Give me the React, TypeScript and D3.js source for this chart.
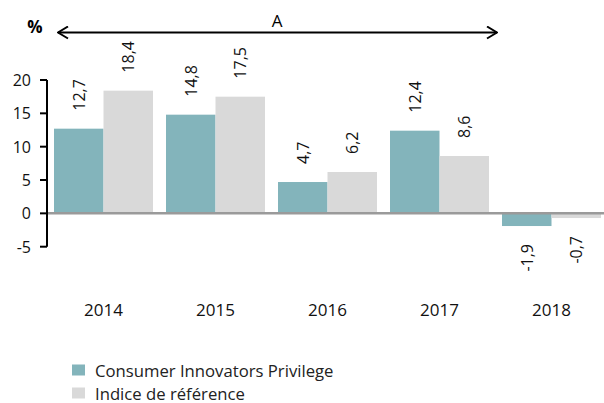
import React from "react";
import * as d3 from "d3";

const categories = ["2014", "2015", "2016", "2017", "2018"];
const fundValues = [12.7, 14.8, 4.7, 12.4, -1.9];
const indexValues = [18.4, 17.5, 6.2, 8.6, -0.7];
const yTicks = [-5, 0, 5, 10, 15, 20];
const seriesNames = ["Consumer Innovators Privilege", "Indice de référence"];
const colors = ["#83b4bb", "#d9d9d9"];

const fmt = (v: number) => v.toFixed(1).replace(".", ",");
const FONT = "'Open Sans', sans-serif";

export default function App() {
  const W = 604, H = 403;
  const x = d3.scaleBand<string>().domain(categories).range([47.5, 607.5]).paddingInner(0.116).paddingOuter(0.058);
  const y = d3.scaleLinear().domain([-5, 20]).range([246.7, 80]);
  const bw = x.bandwidth() / 2;
  const series = [fundValues, indexValues];
  const axisX = 47;

  return (
    <svg width={W} height={H} style={{ position: "absolute", left: 0, top: 0, fontFamily: FONT }}>
      <defs>
        <marker id="ah" viewBox="0 0 12 14" refX="11" refY="7" markerWidth="12" markerHeight="14" markerUnits="userSpaceOnUse" orient="auto-start-reverse">
          <path d="M1,1 L11,7 L1,13" fill="none" stroke="#000" strokeWidth={2} />
        </marker>
      </defs>
      {series.map((vals, si) =>
        vals.map((v, i) => {
          const x0 = (x(categories[i]) as number) + si * bw;
          const yTop = y(Math.max(0, v));
          const h = Math.abs(y(v) - y(0));
          return <rect key={`b${si}-${i}`} x={x0} y={yTop} width={bw} height={h} fill={colors[si]} />;
        })
      )}
      {series.map((vals, si) =>
        vals.map((v, i) => {
          const cx = (x(categories[i]) as number) + si * bw + bw / 2;
          const pos = v >= 0;
          const yy = pos ? y(v) - 18 : y(v) + 18;
          return (
            <text key={`l${si}-${i}`} transform={`translate(${cx},${yy}) rotate(-90)`} textAnchor={pos ? "start" : "end"} dominantBaseline="central" fontSize={16} fill="#111">
              {fmt(v)}
            </text>
          );
        })
      )}
      <line x1={axisX} x2={604} y1={y(0)} y2={y(0)} stroke="#9a9a9a" strokeWidth={2.5} />
      <line x1={axisX} x2={axisX} y1={y(20)} y2={y(-5)} stroke="#000" strokeWidth={2} />
      {yTicks.map((t) => (
        <g key={t}>
          <line x1={40} x2={axisX} y1={y(t)} y2={y(t)} stroke="#000" strokeWidth={2} />
          <text x={31} y={y(t)} textAnchor="end" dominantBaseline="central" fontSize={16} fill="#111">
            {t}
          </text>
        </g>
      ))}
      {categories.map((c) => (
        <text key={c} x={(x(c) as number) + x.bandwidth() / 2} y={316} textAnchor="middle" fontSize={17} fill="#111">
          {c}
        </text>
      ))}
      <text x={35} y={33} textAnchor="middle" fontSize={17} fontWeight="bold" fill="#000">%</text>
      <line x1={58} x2={497} y1={32.5} y2={32.5} stroke="#000" strokeWidth={2} markerStart="url(#ah)" markerEnd="url(#ah)" />
      <text x={277} y={27} textAnchor="middle" fontSize={17} fill="#000">A</text>
      {seriesNames.map((n, i) => (
        <g key={n}>
          <rect x={72} y={364.5 + i * 23} width={13} height={11} fill={colors[i]} />
          <text x={95} y={376.5 + i * 23} fontSize={16.7} fill="#222">{n}</text>
        </g>
      ))}
    </svg>
  );
}
